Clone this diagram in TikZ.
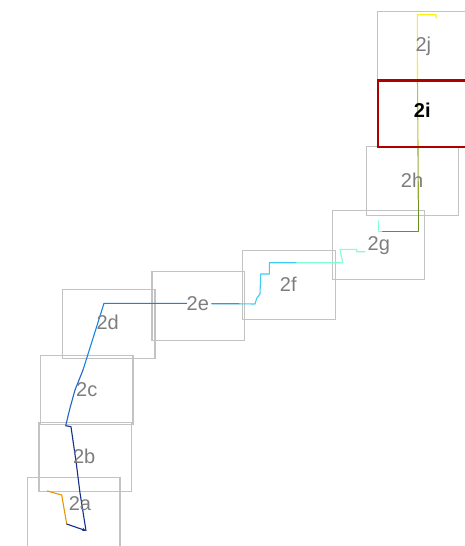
\documentclass[tikz,border=0pt]{standalone}
\usepackage{fontspec}
\setmainfont{Liberation Sans}
\usetikzlibrary{arrows.meta}
\definecolor{boxgray}{RGB}{195,195,195}
\definecolor{labgray}{RGB}{125,125,125}
\definecolor{selred}{RGB}{175,0,0}
\definecolor{tOrange}{RGB}{230,150,0}
\definecolor{tNavy}{RGB}{20,45,135}
\definecolor{tBlue}{RGB}{30,100,195}
\definecolor{tMid}{RGB}{20,130,230}
\definecolor{tTeal}{RGB}{40,160,210}
\definecolor{tCyan}{RGB}{60,205,245}
\definecolor{tAqua}{RGB}{127,255,212}
\definecolor{tOlive}{RGB}{107,142,35}
\definecolor{tOliveB}{RGB}{145,170,50}
\definecolor{tOliveY}{RGB}{195,195,40}
\definecolor{tYellow}{RGB}{250,240,20}
\begin{document}
\begin{tikzpicture}[x=1pt,y=-1pt,
  cell/.style={draw=boxgray,line width=1.2pt,minimum width=92.5pt,minimum height=69pt,inner sep=0pt,outer sep=0pt},
  sel/.style={draw=selred,line width=2.7pt,minimum width=91pt,minimum height=66.7pt,inner sep=0pt,outer sep=0pt},
  lab/.style={anchor=base,text=labgray,font=\fontsize{20}{24}\selectfont,inner sep=0pt},
  trk/.style={line width=1.1pt,line join=round,line cap=round}]
\clip (0,0) rectangle (465,546);
% boxes
\node[cell] (b2a) at (73.8,511.8) {};
\node[cell] (b2b) at (85.3,457.2) {};
\node[cell] (b2c) at (86.8,389.7) {};
\node[cell] (b2d) at (108.7,323.7) {};
\node[cell] (b2e) at (198.3,305.8) {};
\node[cell] (b2f) at (289,285) {};
\node[cell] (b2g) at (378.5,245.2) {};
\node[cell] (b2h) at (412.5,181.2) {};
\node[cell] (b2j) at (423.7,45.8) {};
% track
\draw[trk,tOrange] (47.3,491) -- (61.7,495) -- (66.7,524);
\draw[trk,tNavy,-{Stealth[length=4pt,width=3.5pt]}] (66.7,524) -- (86,530.7);
\draw[trk,tNavy] (86,530.7) -- (80,493) -- (76.5,465) -- (71,426.7) -- (65.7,425.7);
\draw[trk,tBlue] (65.7,425.7) -- (70,408) -- (75,390) -- (83,370);
\draw[trk,tMid] (83,370) -- (104,303.3) -- (186.7,303.3);
\draw[trk,tTeal] (211.7,303.7) -- (240,303.8);
\draw[trk,tCyan] (240,303.8) -- (255,304) -- (256.7,298.3) -- (260,294) -- (260.7,274) -- (269.3,274) -- (269.3,262.7) -- (296.7,262.7);
\draw[trk,tAqua] (296.7,262.7) -- (342.7,262.7) -- (340,249.3) -- (356.7,249.3) -- (356.7,251.7) -- (365,251.7);
\draw[trk,tAqua] (378.3,221) -- (378.3,231.7) -- (382.7,231.7);
\draw[trk,tOlive] (382.7,231.7) -- (418.3,231.7) -- (418.3,200);
\draw[trk,tOliveB] (418.3,200) -- (418,148);
\draw[trk,tOliveY] (418,148) -- (417.5,79);
\draw[trk,tYellow] (417.5,79) -- (417.3,14.7) -- (436,14.7) -- (436,18);
% selected box
\node[sel] (b2i) at (423.5,113.7) {};
% labels
\node[lab] (l2a) at (80,510.7) {2a};
\node[lab] (l2b) at (84.2,463.3) {2b};
\node[lab] (l2c) at (86.7,396) {2c};
\node[lab] (l2d) at (107.7,329.3) {2d};
\node[lab] (l2e) at (197.8,310.7) {2e};
\node[lab] (l2f) at (288.3,291.7) {2f};
\node[lab] (l2g) at (378.8,250) {2g};
\node[lab] (l2h) at (412,187.3) {2h};
\node[lab,text=black,font=\fontsize{20}{24}\selectfont\bfseries] (l2i) at (422.3,117.5) {2i};
\node[lab] (l2j) at (423.3,51) {2j};
\end{tikzpicture}
\end{document}
